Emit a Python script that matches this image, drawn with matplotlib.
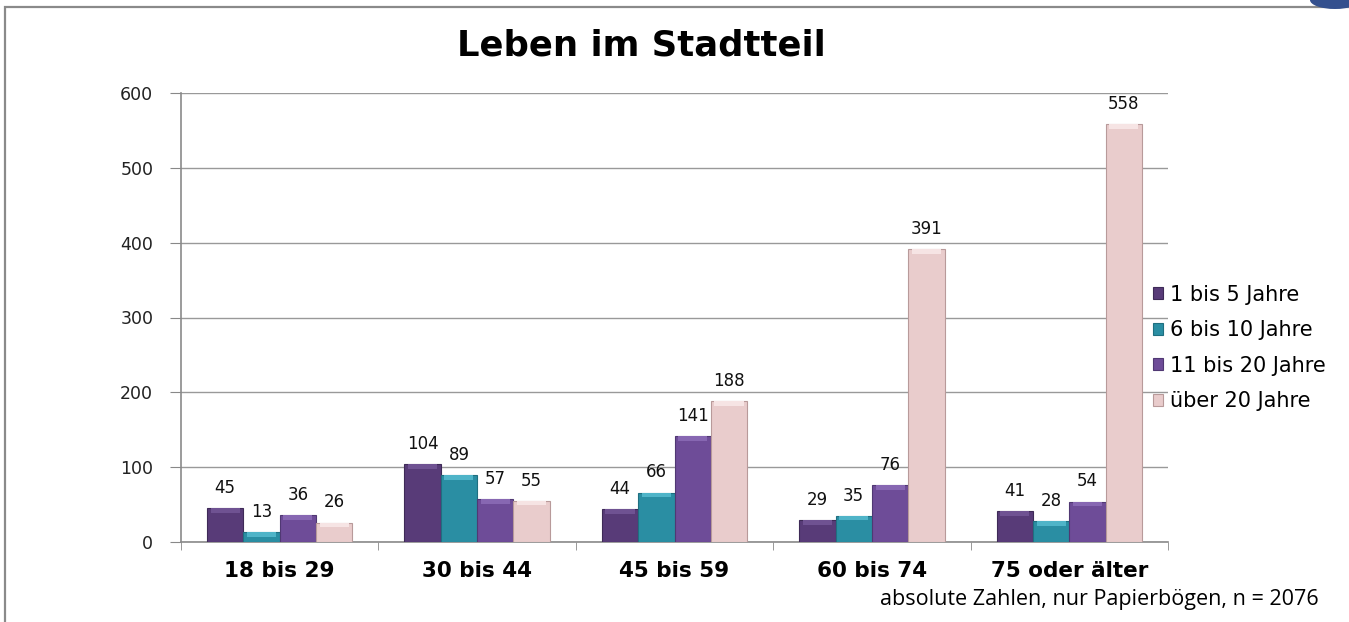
import numpy as np
import matplotlib.pyplot as plt
from matplotlib.patches import Rectangle, Ellipse

# data
groups = ['18 bis 29', '30 bis 44', '45 bis 59', '60 bis 74', '75 oder älter']
series = ['1 bis 5 Jahre', '6 bis 10 Jahre', '11 bis 20 Jahre', 'über 20 Jahre']
v_1_5 = [45, 104, 44, 29, 41]
v_6_10 = [13, 89, 66, 35, 28]
v_11_20 = [36, 57, 141, 76, 54]
v_20plus = [26, 55, 188, 391, 558]
colors = ['#583b78', '#2a8ea3', '#6e4c98', '#e9cccc']
edges = ['#3e2a57', '#1f6f80', '#503873', '#b89a9a']
tops = ['#6f5292', '#4fb4c8', '#8767b2', '#f6e4e4']

plt.rcParams['font.family'] = ['DejaVu Sans']

W, H = 1349, 622
fig = plt.figure(figsize=(W / 100, H / 100), dpi=100)
# outer frame (left and top edges visible)
fig.patches.append(Rectangle((5 / W, -0.05), 1.2, 1.05 - 7 / H, transform=fig.transFigure,
                             fill=False, edgecolor='#8a8a8a', linewidth=1.6))
fig.patches.append(Ellipse((1335 / W, 1.0), 50 / W, 18 / H, transform=fig.transFigure,
                           facecolor='#34508e', edgecolor='none'))

ax = fig.add_axes([181 / W, (H - 542) / H, 987 / W, 449 / H])

x = np.arange(len(groups))
w = 0.184
vals = [v_1_5, v_6_10, v_11_20, v_20plus]
for i, (name, v) in enumerate(zip(series, vals)):
    pos = x + (i - 1.5) * w
    bars = ax.bar(pos, v, w, color=colors[i], edgecolor=edges[i], linewidth=0.8,
                  label=name, zorder=3)
    # light bevel on the top of each bar
    bev = np.minimum(np.array(v), 6)
    ax.bar(pos, bev, w * 0.8, bottom=np.array(v) - bev, color=tops[i],
           linewidth=0, zorder=4)
    for b, val in zip(bars, v):
        ax.text(b.get_x() + b.get_width() / 2, val + 15, str(val), ha='center',
                va='bottom', fontsize=12, color='#111111')

ax.set_xlim(-0.5, len(groups) - 0.5)
ax.set_ylim(0, 600)
ax.set_yticks(range(0, 601, 100))
ax.tick_params(axis='y', labelsize=12.5, length=8, color='#888888', pad=12, labelcolor='#222222')
ax.set_xticks(x)
ax.set_xticklabels(groups, fontsize=15.5, fontweight='bold')
ax.tick_params(axis='x', length=0, pad=14)
ax.set_xticks(np.arange(-0.5, len(groups)), minor=True)
ax.tick_params(axis='x', which='minor', length=6, color='#888888')
ax.grid(axis='y', color='#999999', linewidth=1.0, zorder=0)
for s in ['top', 'right']:
    ax.spines[s].set_visible(False)
for s in ['left', 'bottom']:
    ax.spines[s].set_color('#8a8a8a')
    ax.spines[s].set_linewidth(1.2)

fig.text(641 / W, 1 - 46 / H, 'Leben im Stadtteil', ha='center', va='center',
         fontsize=25.5, fontweight='bold')

fig.legend(loc='center left', bbox_to_anchor=(1153 / W, 1 - 348 / H), frameon=False,
           fontsize=15, handlelength=0.5, handleheight=0.5, handletextpad=0.3,
           labelspacing=0.75, borderpad=0, borderaxespad=0)

fig.text(1319 / W, 1 - 599 / H, 'absolute Zahlen, nur Papierbögen, n = 2076',
         ha='right', va='center', fontsize=15.5, family=['Open Sans', 'DejaVu Sans'])

fig.savefig('out.png', dpi=100)
